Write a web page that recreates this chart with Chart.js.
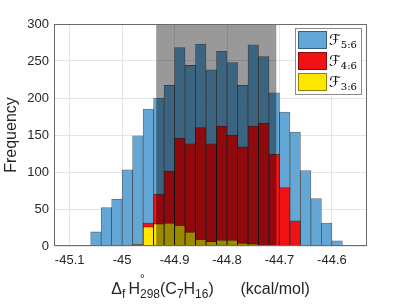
<!DOCTYPE html>
<html>
<head>
<meta charset="utf-8">
<script src="https://cdn.jsdelivr.net/npm/chart.js@4.4.1/dist/chart.umd.min.js"></script>
<style>
  html, body { margin: 0; padding: 0; background: #fff; }
</style>
</head>
<body>
<canvas id="hist" width="407" height="306"></canvas>
<script>
// histogram bins (centres, kcal/mol), each 0.02 wide
const binCenters = [
  -45.09, -45.07, -45.05, -45.03, -45.01, -44.99, -44.97, -44.95, -44.93,
  -44.91, -44.89, -44.87, -44.85, -44.83, -44.81, -44.79, -44.77, -44.75,
  -44.73, -44.71, -44.69, -44.67, -44.65, -44.63, -44.61, -44.59, -44.57
];
// counts per bin
const countsF56 = [1, 1, 19, 52, 63, 103, 149, 185, 200, 217, 268, 244, 273, 238, 263, 248, 217, 272, 256, 207, 181, 154, 102, 64, 31, 7, 1];
const countsF46 = [0, 0, 0, 0, 0, 0, 2, 31, 70, 101, 146, 138, 160, 138, 162, 150, 134, 162, 166, 124, 79, 34, 0, 0, 0, 0, 0];
const countsF36 = [0, 0, 0, 0, 0, 0, 2, 26, 30, 31, 28, 19, 9, 6, 8, 8, 4, 3, 1, 0, 0, 0, 0, 0, 0, 0, 0];

const seriesNames = ['5:6', '4:6', '3:6'];
const xTicks = [-45.1, -45, -44.9, -44.8, -44.7, -44.6];
const yTicks = [0, 50, 100, 150, 200, 250, 300];
const shadedRange = [-44.935, -44.706];   // grey band

const colors = ['rgb(99,167,214)', 'rgb(241,18,22)', 'rgb(255,231,0)'];
const fontName = '"Liberation Sans", Arial, sans-serif';

function toPoints(counts) {
  return binCenters.map((x, i) => ({ x: x, y: counts[i] || null }));
}

// grey band, box, legend and axis titles
const extras = {
  id: 'extras',
  afterDatasetsDraw(chart) {
    const { ctx, chartArea: a, scales: { x } } = chart;
    const x0 = x.getPixelForValue(shadedRange[0]);
    const x1 = x.getPixelForValue(shadedRange[1]);
    ctx.save();
    ctx.fillStyle = 'rgba(0,0,0,0.4)';
    ctx.fillRect(x0, a.top, x1 - x0, a.bottom - a.top);
    ctx.restore();
  },
  afterDraw(chart) {
    const { ctx, chartArea: a } = chart;
    ctx.save();
    // axes box
    ctx.strokeStyle = '#6b6b6b';
    ctx.lineWidth = 1;
    ctx.strokeRect(Math.round(a.left) - 0.5, Math.round(a.top) + 0.5,
                   Math.round(a.right - a.left) + 1, Math.round(a.bottom - a.top) - 1);

    // legend
    const lx = Math.round(a.right) - 71, ly = Math.round(a.top) + 4;
    ctx.fillStyle = '#fff';
    ctx.fillRect(lx, ly, 66, 66);
    ctx.strokeStyle = '#8c8c8c';
    ctx.strokeRect(lx + 0.5, ly + 0.5, 66, 66);
    seriesNames.forEach((name, i) => {
      const sy = ly + 3 + i * 21;
      ctx.fillStyle = colors[i];
      ctx.fillRect(lx + 3, sy, 29, 18);
      ctx.strokeStyle = 'rgba(0,0,0,0.55)';
      ctx.lineWidth = 0.8;
      ctx.strokeRect(lx + 3.5, sy + 0.5, 28, 17);
      ctx.fillStyle = '#000';
      ctx.textBaseline = 'alphabetic';
      ctx.textAlign = 'left';
      ctx.font = '15px "DejaVu Sans", serif';
      ctx.fillText('\u2131', lx + 34, sy + 14);
      const fw = ctx.measureText('\u2131').width;
      ctx.font = '10px "DejaVu Serif", serif';
      ctx.fillText(name, lx + 34 + fw, sy + 17);
    });

    // y title
    ctx.fillStyle = '#262626';
    ctx.font = '16px ' + fontName;
    ctx.textAlign = 'center';
    ctx.textBaseline = 'middle';
    ctx.translate(12, (a.top + a.bottom) / 2);
    ctx.rotate(-Math.PI / 2);
    ctx.fillText('Frequency', 0, 0);
    ctx.setTransform(1, 0, 0, 1, 0, 0);

    // x title with sub/superscripts
    const big = '16px ' + fontName, small = '12px ' + fontName;
    const parts = [
      ['\u0394', big, 0], ['f', small, 4], ['\u2009', big, 0], ['H', big, 0],
      ['\u00b0', small, -11, true], ['298', small, 4], ['(C', big, 0], ['7', small, 4],
      ['H', big, 0], ['16', small, 4], [')      (kcal/mol)', big, 0]
    ];
    ctx.textAlign = 'left';
    ctx.textBaseline = 'alphabetic';
    let total = 0;
    parts.forEach(p => { ctx.font = p[1]; if (!p[3]) total += ctx.measureText(p[0]).width; });
    let cx = (a.left + a.right) / 2 - total / 2;
    const base = 294;
    parts.forEach(p => {
      ctx.font = p[1];
      ctx.fillText(p[0], cx, base + p[2]);
      if (!p[3]) cx += ctx.measureText(p[0]).width;
    });
    ctx.restore();
  }
};

const barStyle = { barPercentage: 1, categoryPercentage: 1, borderWidth: 0.8, borderColor: 'rgba(0,0,0,0.6)', grouped: false };

new Chart(document.getElementById('hist'), {
  type: 'bar',
  data: {
    datasets: [
      Object.assign({ label: 'F5:6', data: toPoints(countsF56), backgroundColor: colors[0], order: 3 }, barStyle),
      Object.assign({ label: 'F4:6', data: toPoints(countsF46), backgroundColor: colors[1], order: 2 }, barStyle),
      Object.assign({ label: 'F3:6', data: toPoints(countsF36), backgroundColor: colors[2], order: 1 }, barStyle)
    ]
  },
  options: {
    responsive: false,
    devicePixelRatio: 1,
    animation: false,
    layout: { padding: { left: 0, right: 41, top: 24, bottom: 0 } },
    plugins: { legend: { display: false }, tooltip: { enabled: false } },
    scales: {
      x: {
        type: 'linear',
        offset: false,
        min: -45.128,
        max: -44.535,
        afterBuildTicks: s => { s.ticks = xTicks.map(v => ({ value: v })); },
        afterFit: s => { s.height = 60; },
        grid: { color: '#e4e4e4', drawTicks: false, offset: false },
        border: { display: false },
        ticks: {
          color: '#262626', font: { family: fontName, size: 13 }, padding: 7,
          maxRotation: 0, autoSkip: false,
          callback: v => String(Number(v.toFixed(2)))
        }
      },
      y: {
        min: 0,
        max: 300,
        afterBuildTicks: s => { s.ticks = yTicks.map(v => ({ value: v })); },
        afterFit: s => { s.width = 55; },
        grid: { color: '#e4e4e4', drawTicks: false },
        border: { display: false },
        ticks: { color: '#262626', font: { family: fontName, size: 13 }, padding: 6 }
      }
    }
  },
  plugins: [extras]
});
</script>
</body>
</html>
